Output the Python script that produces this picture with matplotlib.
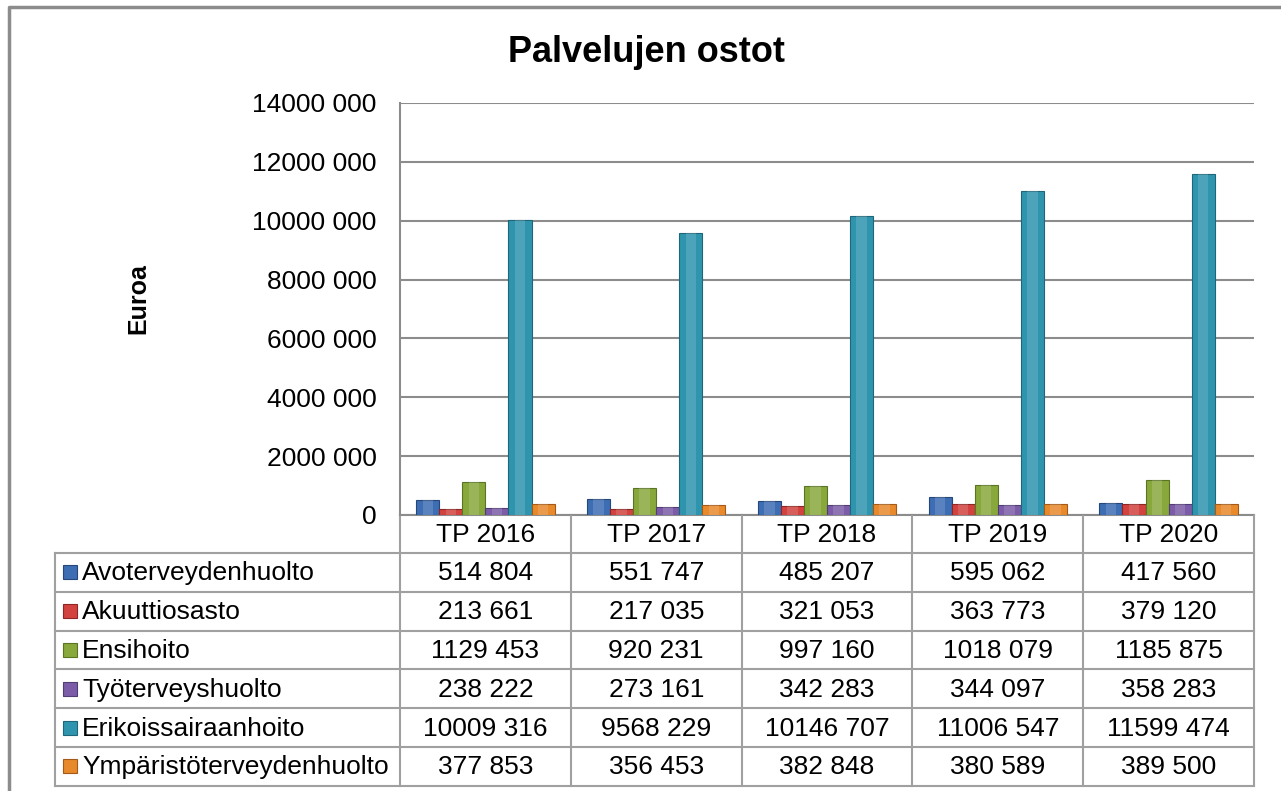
import numpy as np
import matplotlib
matplotlib.use("Agg")
import matplotlib.pyplot as plt
from matplotlib.patches import Rectangle

plt.rcParams['font.family'] = ['Liberation Sans', 'DejaVu Sans']

years = ["TP 2016", "TP 2017", "TP 2018", "TP 2019", "TP 2020"]
series = ["Avoterveydenhuolto", "Akuuttiosasto", "Ensihoito",
          "Työterveyshuolto", "Erikoissairaanhoito", "Ympäristöterveydenhuolto"]
avo = [514804, 551747, 485207, 595062, 417560]
akuutti = [213661, 217035, 321053, 363773, 379120]
ensi = [1129453, 920231, 997160, 1018079, 1185875]
tyo = [238222, 273161, 342283, 344097, 358283]
erik = [10009316, 9568229, 10146707, 11006547, 11599474]
ymp = [377853, 356453, 382848, 380589, 389500]
values = [avo, akuutti, ensi, tyo, erik, ymp]
colors = ["#3D6DB3", "#D2423F", "#88A83C", "#7C5CA8", "#2F95AE", "#E8892C"]
edges = ["#25477A", "#8E2624", "#5A7424", "#523C74", "#1E6679", "#A45A16"]

yticks = np.arange(0, 14000001, 2000000)


def fmt(v):
    v = int(v)
    if v < 1000:
        return str(v)
    return "%d %03d" % (v // 1000, v % 1000)


W, H = 1281, 791
fig = plt.figure(figsize=(W / 100, H / 100), dpi=100)

# pixel-space overlay for the frame and data table
pax = fig.add_axes([0, 0, 1, 1])
pax.set_xlim(0, W)
pax.set_ylim(H, 0)
pax.axis("off")

# main plot area
x0, x1 = 400, 1254
y_top, y_bot = 103, 515
ax = fig.add_axes([x0 / W, (H - y_bot) / H, (x1 - x0) / W, (y_bot - y_top) / H])
ax.set_xlim(-0.5, len(years) - 0.5)
ax.set_ylim(0, 14000000)
ax.set_yticks(yticks)
ax.set_yticklabels([fmt(t) for t in yticks], fontsize=19)
ax.tick_params(axis="y", length=0, pad=17)
ax.set_xticks([])
for s in ["top", "right", "bottom"]:
    ax.spines[s].set_visible(False)
ax.spines["left"].set_color("#8C8C8C")
ax.spines["left"].set_linewidth(1.5)
ax.grid(axis="y", color="#8C8C8C", linewidth=1.5)
ax.set_axisbelow(True)
ax.patch.set_alpha(0)

bw = 0.135
x = np.arange(len(years))
for k, vals in enumerate(values):
    off = (k - 2.5) * bw
    ax.bar(x + off, vals, width=bw, color=colors[k], edgecolor=edges[k], linewidth=0.8, zorder=3)
    # lighter highlight down the middle for the bevelled look
    ax.bar(x + off, vals, width=bw * 0.45, color="white", alpha=0.15, linewidth=0, zorder=4)

pax.text(138, 299, "Euroa", fontsize=18, fontweight="bold", rotation=90,
         ha="center", va="center")

pax.text(647, 53, "Palvelujen ostot", fontsize=26, fontweight="bold",
         ha="center", va="center")

# outer chart border
pax.plot([9, 9, W], [H, 6.5, 6.5], color="#8C8C8C", lw=2.5, solid_capstyle="butt")

# data table
lc = "#A0A0A0"
lw = 1.5
col_w = (x1 - x0) / len(years)
row_top = 553
row_h = 38.8
n_rows = len(series)
t_bot = row_top + n_rows * row_h
lab_x = 55

# header row
pax.plot([x0, x1], [y_bot, y_bot], color="#8C8C8C", lw=lw)
for i in range(len(years) + 1):
    xx = x0 + i * col_w
    pax.plot([xx, xx], [y_bot, t_bot], color=lc, lw=lw)
for i, yl in enumerate(years):
    pax.text(x0 + (i + 0.5) * col_w, (y_bot + row_top) / 2 + 1, yl, fontsize=19,
             ha="center", va="center")
# rows
for r in range(n_rows + 1):
    yy = row_top + r * row_h
    pax.plot([lab_x, x1], [yy, yy], color=lc, lw=lw)
pax.plot([lab_x, lab_x], [row_top, t_bot], color=lc, lw=lw)

for r, name in enumerate(series):
    yc = row_top + (r + 0.5) * row_h
    pax.add_patch(Rectangle((63, yc - 7), 14, 14, facecolor=colors[r],
                            edgecolor=edges[r], lw=0.8))
    pax.text(82, yc + 1, name, fontsize=19, ha="left", va="center")
    for i, v in enumerate(values[r]):
        pax.text(x0 + (i + 0.5) * col_w, yc + 1, fmt(v), fontsize=19,
                 ha="center", va="center")

fig.savefig("out.png", dpi=100)
